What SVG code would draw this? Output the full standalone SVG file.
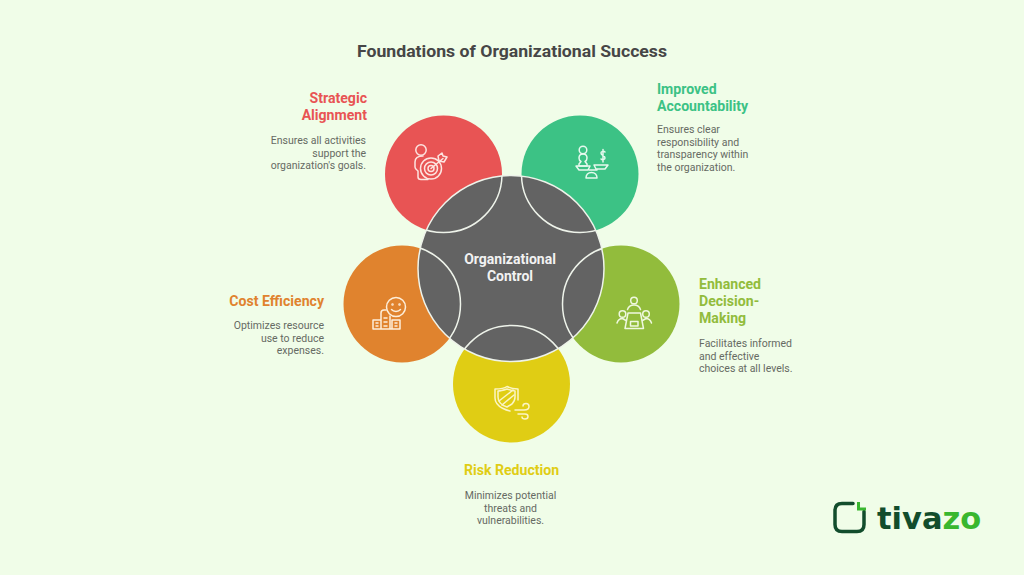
<svg xmlns="http://www.w3.org/2000/svg" width="1024" height="575" viewBox="0 0 1024 575">
<style>
text{font-family:Roboto,"Liberation Sans",sans-serif}
.t{font-size:14.100px;font-weight:700}
.d{font-size:10.500px;fill:#666a63}
.i{fill:none;stroke-width:1.500;stroke-linecap:round;stroke-linejoin:round}
.ov{fill:none;stroke:#eef3ea;stroke-width:1.500}
.e{text-anchor:end}
.m{text-anchor:middle}
</style>
<defs><clipPath id="cc"><circle cx="511" cy="268.500" r="93"/></clipPath></defs>
<rect width="1024" height="575" fill="#f0fde8"/>
<text x="512" y="57" text-anchor="middle" font-size="16" font-weight="700" fill="#464646" textLength="310" lengthAdjust="spacingAndGlyphs">Foundations of Organizational Success</text>

<g id="node-strategic">
<circle cx="443.500" cy="174" r="58.500" fill="#e85454"/>
<text class="t e" x="367" y="103" fill="#e85454">Strategic</text>
<text class="t e" x="367" y="120" fill="#e85454">Alignment</text>
<text class="d e" x="366" y="144">Ensures all activities</text>
<text class="d e" x="366" y="156.500">support the</text>
<text class="d e" x="366" y="169">organization's goals.</text>
<g class="i" stroke="#fde4e0">
<circle cx="421" cy="150" r="5.200"/>
<path d="M423 156c-5 0-8 2-8 6v5c0 2 2 3 3 4v6c0 2 1 2.500 3 2.500h7"/>
<circle cx="431" cy="168.500" r="10.500"/><circle cx="431" cy="168.500" r="6.500"/><circle cx="431" cy="168.500" r="3"/>
<path d="M431 168.500l12-10M438 156l1 5 5 1 3-5-4-1-1-3z"/>
</g>
</g>

<g id="node-accountability">
<circle cx="580" cy="174" r="58.500" fill="#3cc285"/>
<text class="t" x="657" y="94" fill="#3cc285">Improved</text>
<text class="t" x="657" y="111" fill="#3cc285">Accountability</text>
<text class="d" x="657" y="133">Ensures clear</text>
<text class="d" x="657" y="145.500">responsibility and</text>
<text class="d" x="657" y="158">transparency within</text>
<text class="d" x="657" y="170.500">the organization.</text>
<g class="i" stroke="#e6f9ee">
<circle cx="583" cy="150" r="3.800"/>
<path d="M583 154c-3 0-4 2-4 4 0 2 1 3 2 3.500l-2 2.500v2h8v-2l-2-2.500c1-.5 2-1.500 2-3.500 0-2-1-4-4-4z"/>
<path d="M576 166h14l-2 4h-9zM608 165h-14l2 4h9zM589 170l8 0"/>
<path d="M586 178c0-3 2-5.500 5.500-5.500s5.500 2.500 5.500 5.500z"/>
<path d="M605 152c-1-1-4-1-4 1 0 3 4 2 4 5 0 2-3 2-4 1M603 149.500v12.500"/>
</g>
</g>

<g id="node-cost">
<circle cx="402" cy="304" r="58.500" fill="#e0832e"/>
<text class="t e" x="324" y="306" fill="#e0832e">Cost Efficiency</text>
<text class="d e" x="324" y="329">Optimizes resource</text>
<text class="d e" x="324" y="341.500">use to reduce</text>
<text class="d e" x="324" y="354">expenses.</text>
<g class="i" stroke="#fdeeda">
<circle cx="396" cy="307" r="9.500"/>
<circle cx="392.500" cy="304.500" r=".5"/><circle cx="399.500" cy="304.500" r=".5"/>
<path d="M391.500 309.500c2 2.500 7 2.500 9 0"/>
<path d="M381 329v-16c0-2 1-3 3-3h2M390 316v13M373 320h8M373 320v9h27v-9h-8v9M376 323h2M376 326h2M384 318h3M384 322h3M384 326h3M395 323h2M395 326h2"/>
</g>
</g>

<g id="node-decision">
<circle cx="621" cy="304" r="58.500" fill="#92bc3c"/>
<text class="t" x="699" y="289" fill="#92bc3c">Enhanced</text>
<text class="t" x="699" y="306" fill="#92bc3c">Decision-</text>
<text class="t" x="699" y="323" fill="#92bc3c">Making</text>
<text class="d" x="699" y="347">Facilitates informed</text>
<text class="d" x="699" y="359.500">and effective</text>
<text class="d" x="699" y="372">choices at all levels.</text>
<g class="i" stroke="#eff8df">
<circle cx="634" cy="300.500" r="3.300"/>
<path d="M627.500 309.500c1-3 3.500-4.500 6.500-4.500s5.500 1.500 6.500 4.500"/>
<circle cx="622.500" cy="314" r="3.300"/><circle cx="646" cy="314" r="3.300"/>
<path d="M617 323c1-3 3-4.500 5.500-4.500l3.500 2M651.500 323c-1-3-3-4.500-5.500-4.500l-3.500 2"/>
<path d="M628 313h12.500l3 15.500h-18.500zM630.500 321.500h7.500v4.500h-7.500z"/>
</g>
</g>

<g id="node-risk">
<circle cx="511.500" cy="384" r="58.500" fill="#e0cd14"/>
<text class="t m" x="511.500" y="475" fill="#e0cd14">Risk Reduction</text>
<text class="d m" x="510.500" y="499">Minimizes potential</text>
<text class="d m" x="510.500" y="511.500">threats and</text>
<text class="d m" x="510.500" y="524">vulnerabilities.</text>
<g class="i" stroke="#fbf5c4">
<path d="M510 411c0 0-15-3-15-13v-9c7 0 10-1 12-2.500 3 1.500 5 2.500 11 2.500v11"/>
<path d="M507 407c-6-2-9-5-9-10v-6c3 0 6-1 9-2 3 1 6 2 8 2v6c0 3-1 5-3 7z"/>
<path d="M499 401l14-11M502 405l12-10"/>
<path d="M515 410h9c4 0 5-2 5-3.500s-1-3-3-3-3 1-3 2.500M518 414h7c3 0 3 1.500 3 2.500 0 1.500-1 2.500-3 2.500s-3-1-3-2"/>
</g>
</g>

<g id="node-center">
<circle cx="511" cy="268.500" r="93" fill="#636363" stroke="#eef3ea" stroke-width="1.500"/>
<g clip-path="url(#cc)">
<circle class="ov" cx="443.500" cy="174" r="58.500"/>
<circle class="ov" cx="580" cy="174" r="58.500"/>
<circle class="ov" cx="402" cy="304" r="58.500"/>
<circle class="ov" cx="621" cy="304" r="58.500"/>
<circle class="ov" cx="511.500" cy="384" r="58.500"/>
</g>
<text x="510" y="263.500" text-anchor="middle" font-size="14" font-weight="700" fill="#f2f2f2">Organizational</text>
<text x="510" y="280.500" text-anchor="middle" font-size="14" font-weight="700" fill="#f2f2f2">Control</text>
</g>

<g id="logo">
<path d="M853 503.500h-11c-5 0-7 3-7 7v14c0 5 3 7 7 7h15c5 0 7-3 7-7v-13" fill="none" stroke="#124d2c" stroke-width="3.500" stroke-linecap="round"/>
<path d="M858.500 502v7h7.500" fill="none" stroke="#39b72f" stroke-width="3"/>
<text x="877" y="528.500" font-size="30.500" font-weight="700" style="font-family:'DejaVu Sans',sans-serif" fill="#124d2c">tiva<tspan fill="#39b72f">zo</tspan></text>
</g>
</svg>
